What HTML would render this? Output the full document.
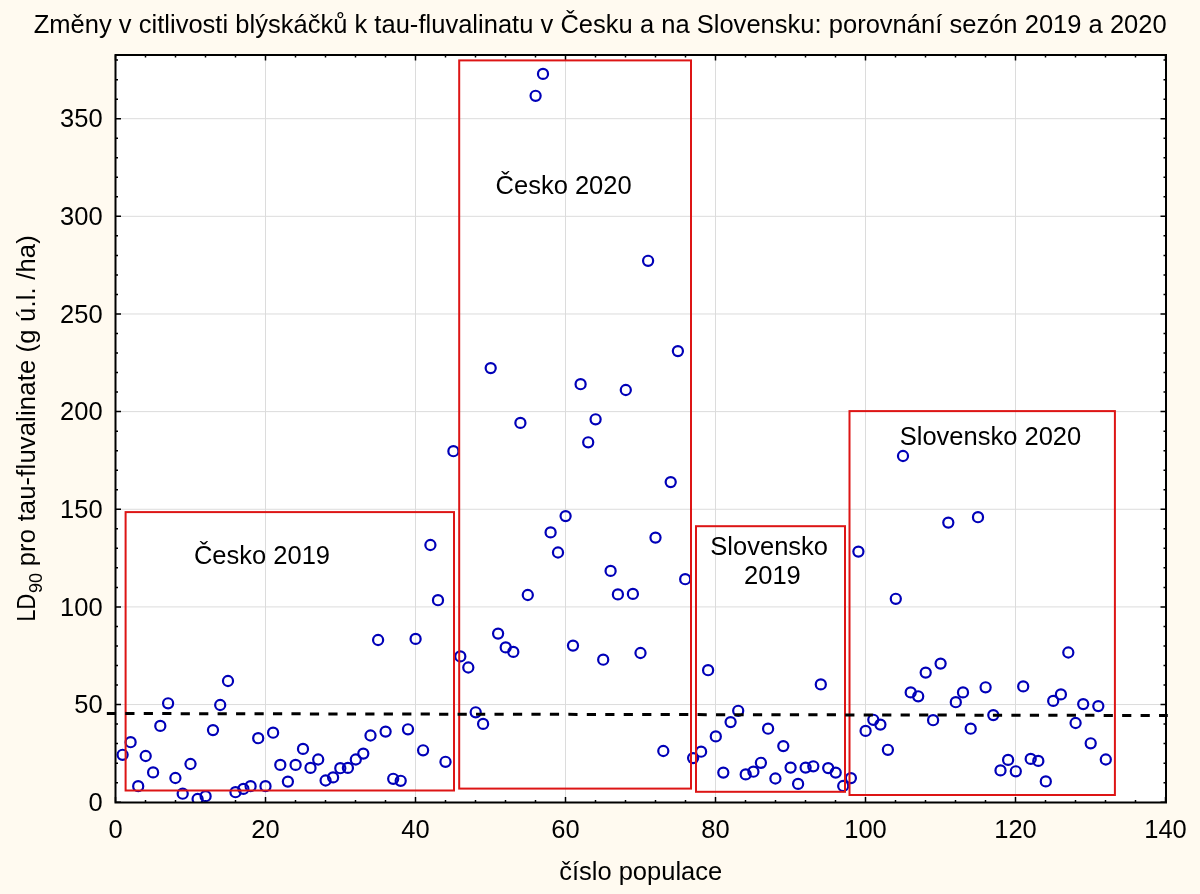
<!DOCTYPE html><html><head><meta charset="utf-8"><style>html,body{margin:0;padding:0;background:#FFFAF0;width:1200px;height:894px;overflow:hidden}svg{display:block;will-change:transform}text{font-family:"Liberation Sans",sans-serif;fill:#000}</style></head><body>
<svg width="1200" height="894" viewBox="0 0 1200 894">
<rect x="0" y="0" width="1200" height="894" fill="#FFFAF0"/>
<rect x="115.5" y="55.0" width="1050.50" height="747.50" fill="#FFFFFF"/>
<path d="M265.50 55.0V802.5M415.50 55.0V802.5M565.50 55.0V802.5M715.50 55.0V802.5M865.50 55.0V802.5M1015.50 55.0V802.5M115.5 704.56H1166.00M115.5 606.91H1166.00M115.5 509.27H1166.00M115.5 411.62H1166.00M115.5 313.98H1166.00M115.5 216.33H1166.00M115.5 118.69H1166.00" stroke="#DCDCDC" stroke-width="1" fill="none"/>
<path d="M115.50 802.5v-5.5M115.50 55.0v5.5M145.50 802.5v-2.5M145.50 55.0v2.5M175.50 802.5v-2.5M175.50 55.0v2.5M205.50 802.5v-2.5M205.50 55.0v2.5M235.50 802.5v-2.5M235.50 55.0v2.5M265.50 802.5v-5.5M265.50 55.0v5.5M295.50 802.5v-2.5M295.50 55.0v2.5M325.50 802.5v-2.5M325.50 55.0v2.5M355.50 802.5v-2.5M355.50 55.0v2.5M385.50 802.5v-2.5M385.50 55.0v2.5M415.50 802.5v-5.5M415.50 55.0v5.5M445.50 802.5v-2.5M445.50 55.0v2.5M475.50 802.5v-2.5M475.50 55.0v2.5M505.50 802.5v-2.5M505.50 55.0v2.5M535.50 802.5v-2.5M535.50 55.0v2.5M565.50 802.5v-5.5M565.50 55.0v5.5M595.50 802.5v-2.5M595.50 55.0v2.5M625.50 802.5v-2.5M625.50 55.0v2.5M655.50 802.5v-2.5M655.50 55.0v2.5M685.50 802.5v-2.5M685.50 55.0v2.5M715.50 802.5v-5.5M715.50 55.0v5.5M745.50 802.5v-2.5M745.50 55.0v2.5M775.50 802.5v-2.5M775.50 55.0v2.5M805.50 802.5v-2.5M805.50 55.0v2.5M835.50 802.5v-2.5M835.50 55.0v2.5M865.50 802.5v-5.5M865.50 55.0v5.5M895.50 802.5v-2.5M895.50 55.0v2.5M925.50 802.5v-2.5M925.50 55.0v2.5M955.50 802.5v-2.5M955.50 55.0v2.5M985.50 802.5v-2.5M985.50 55.0v2.5M1015.50 802.5v-5.5M1015.50 55.0v5.5M1045.50 802.5v-2.5M1045.50 55.0v2.5M1075.50 802.5v-2.5M1075.50 55.0v2.5M1105.50 802.5v-2.5M1105.50 55.0v2.5M1135.50 802.5v-2.5M1135.50 55.0v2.5M1165.50 802.5v-5.5M1165.50 55.0v5.5M115.5 802.20h5.5M1166.00 802.20h-5.5M115.5 782.67h2.5M1166.00 782.67h-2.5M115.5 763.14h2.5M1166.00 763.14h-2.5M115.5 743.61h2.5M1166.00 743.61h-2.5M115.5 724.08h2.5M1166.00 724.08h-2.5M115.5 704.56h5.5M1166.00 704.56h-5.5M115.5 685.03h2.5M1166.00 685.03h-2.5M115.5 665.50h2.5M1166.00 665.50h-2.5M115.5 645.97h2.5M1166.00 645.97h-2.5M115.5 626.44h2.5M1166.00 626.44h-2.5M115.5 606.91h5.5M1166.00 606.91h-5.5M115.5 587.38h2.5M1166.00 587.38h-2.5M115.5 567.85h2.5M1166.00 567.85h-2.5M115.5 548.32h2.5M1166.00 548.32h-2.5M115.5 528.79h2.5M1166.00 528.79h-2.5M115.5 509.27h5.5M1166.00 509.27h-5.5M115.5 489.74h2.5M1166.00 489.74h-2.5M115.5 470.21h2.5M1166.00 470.21h-2.5M115.5 450.68h2.5M1166.00 450.68h-2.5M115.5 431.15h2.5M1166.00 431.15h-2.5M115.5 411.62h5.5M1166.00 411.62h-5.5M115.5 392.09h2.5M1166.00 392.09h-2.5M115.5 372.56h2.5M1166.00 372.56h-2.5M115.5 353.03h2.5M1166.00 353.03h-2.5M115.5 333.50h2.5M1166.00 333.50h-2.5M115.5 313.98h5.5M1166.00 313.98h-5.5M115.5 294.45h2.5M1166.00 294.45h-2.5M115.5 274.92h2.5M1166.00 274.92h-2.5M115.5 255.39h2.5M1166.00 255.39h-2.5M115.5 235.86h2.5M1166.00 235.86h-2.5M115.5 216.33h5.5M1166.00 216.33h-5.5M115.5 196.80h2.5M1166.00 196.80h-2.5M115.5 177.27h2.5M1166.00 177.27h-2.5M115.5 157.74h2.5M1166.00 157.74h-2.5M115.5 138.21h2.5M1166.00 138.21h-2.5M115.5 118.69h5.5M1166.00 118.69h-5.5M115.5 99.16h2.5M1166.00 99.16h-2.5M115.5 79.63h2.5M1166.00 79.63h-2.5M115.5 60.10h2.5M1166.00 60.10h-2.5" stroke="#000" stroke-width="1.5" fill="none"/>
<defs><clipPath id="pc"><rect x="115.5" y="55.0" width="1050.50" height="747.50"/></clipPath></defs>
<g fill="none" stroke="#0000B8" stroke-width="2.2" clip-path="url(#pc)"><circle cx="122.6" cy="754.8" r="5.05"/><circle cx="130.6" cy="742.2" r="5.05"/><circle cx="138.2" cy="786.2" r="5.05"/><circle cx="145.7" cy="756.0" r="5.05"/><circle cx="153.1" cy="772.4" r="5.05"/><circle cx="160.3" cy="725.9" r="5.05"/><circle cx="168.1" cy="703.3" r="5.05"/><circle cx="175.4" cy="778.0" r="5.05"/><circle cx="182.7" cy="793.7" r="5.05"/><circle cx="190.5" cy="764.0" r="5.05"/><circle cx="197.6" cy="799.0" r="5.05"/><circle cx="205.6" cy="796.2" r="5.05"/><circle cx="213.0" cy="730.1" r="5.05"/><circle cx="220.2" cy="705.0" r="5.05"/><circle cx="228.0" cy="681.0" r="5.05"/><circle cx="235.5" cy="792.2" r="5.05"/><circle cx="243.4" cy="788.9" r="5.05"/><circle cx="250.6" cy="786.2" r="5.05"/><circle cx="258.2" cy="738.2" r="5.05"/><circle cx="265.5" cy="786.2" r="5.05"/><circle cx="273.1" cy="732.7" r="5.05"/><circle cx="280.3" cy="764.9" r="5.05"/><circle cx="287.9" cy="781.6" r="5.05"/><circle cx="295.6" cy="764.9" r="5.05"/><circle cx="303.0" cy="748.9" r="5.05"/><circle cx="310.5" cy="767.9" r="5.05"/><circle cx="318.2" cy="759.5" r="5.05"/><circle cx="325.6" cy="780.5" r="5.05"/><circle cx="333.1" cy="777.4" r="5.05"/><circle cx="340.3" cy="768.2" r="5.05"/><circle cx="347.9" cy="767.9" r="5.05"/><circle cx="355.8" cy="759.5" r="5.05"/><circle cx="363.3" cy="753.6" r="5.05"/><circle cx="370.5" cy="735.5" r="5.05"/><circle cx="378.1" cy="640.0" r="5.05"/><circle cx="385.6" cy="731.6" r="5.05"/><circle cx="393.2" cy="778.8" r="5.05"/><circle cx="400.7" cy="780.8" r="5.05"/><circle cx="408.0" cy="729.3" r="5.05"/><circle cx="415.6" cy="638.9" r="5.05"/><circle cx="423.1" cy="750.3" r="5.05"/><circle cx="430.4" cy="545.0" r="5.05"/><circle cx="438.0" cy="600.2" r="5.05"/><circle cx="445.5" cy="761.8" r="5.05"/><circle cx="453.4" cy="451.2" r="5.05"/><circle cx="460.3" cy="656.4" r="5.05"/><circle cx="468.3" cy="667.5" r="5.05"/><circle cx="475.7" cy="712.3" r="5.05"/><circle cx="483.1" cy="723.9" r="5.05"/><circle cx="490.7" cy="368.1" r="5.05"/><circle cx="498.1" cy="633.6" r="5.05"/><circle cx="505.7" cy="647.4" r="5.05"/><circle cx="513.3" cy="651.9" r="5.05"/><circle cx="520.4" cy="422.9" r="5.05"/><circle cx="527.8" cy="595.0" r="5.05"/><circle cx="535.6" cy="95.8" r="5.05"/><circle cx="543.0" cy="73.9" r="5.05"/><circle cx="550.6" cy="532.4" r="5.05"/><circle cx="558.0" cy="552.5" r="5.05"/><circle cx="565.6" cy="516.1" r="5.05"/><circle cx="573.0" cy="645.6" r="5.05"/><circle cx="580.6" cy="384.2" r="5.05"/><circle cx="588.2" cy="442.3" r="5.05"/><circle cx="595.6" cy="419.3" r="5.05"/><circle cx="603.2" cy="659.7" r="5.05"/><circle cx="610.6" cy="570.9" r="5.05"/><circle cx="617.9" cy="594.4" r="5.05"/><circle cx="625.8" cy="390.0" r="5.05"/><circle cx="632.9" cy="593.9" r="5.05"/><circle cx="640.5" cy="653.0" r="5.05"/><circle cx="648.1" cy="260.8" r="5.05"/><circle cx="655.5" cy="537.6" r="5.05"/><circle cx="663.3" cy="751.0" r="5.05"/><circle cx="670.7" cy="482.1" r="5.05"/><circle cx="677.9" cy="351.1" r="5.05"/><circle cx="685.2" cy="579.2" r="5.05"/><circle cx="693.1" cy="758.1" r="5.05"/><circle cx="701.1" cy="751.7" r="5.05"/><circle cx="708.1" cy="670.2" r="5.05"/><circle cx="715.8" cy="736.4" r="5.05"/><circle cx="723.3" cy="772.6" r="5.05"/><circle cx="730.6" cy="722.1" r="5.05"/><circle cx="738.2" cy="710.8" r="5.05"/><circle cx="745.7" cy="774.4" r="5.05"/><circle cx="753.4" cy="771.7" r="5.05"/><circle cx="760.9" cy="762.8" r="5.05"/><circle cx="768.1" cy="728.7" r="5.05"/><circle cx="775.4" cy="778.5" r="5.05"/><circle cx="783.3" cy="746.1" r="5.05"/><circle cx="790.6" cy="767.6" r="5.05"/><circle cx="798.1" cy="783.9" r="5.05"/><circle cx="805.6" cy="767.6" r="5.05"/><circle cx="813.3" cy="766.3" r="5.05"/><circle cx="820.8" cy="684.4" r="5.05"/><circle cx="828.2" cy="768.1" r="5.05"/><circle cx="835.7" cy="772.6" r="5.05"/><circle cx="843.2" cy="786.0" r="5.05"/><circle cx="850.9" cy="778.1" r="5.05"/><circle cx="858.4" cy="551.6" r="5.05"/><circle cx="865.6" cy="730.9" r="5.05"/><circle cx="873.3" cy="719.8" r="5.05"/><circle cx="880.4" cy="724.6" r="5.05"/><circle cx="887.9" cy="749.8" r="5.05"/><circle cx="895.8" cy="598.8" r="5.05"/><circle cx="903.0" cy="456.0" r="5.05"/><circle cx="910.7" cy="692.4" r="5.05"/><circle cx="918.2" cy="696.3" r="5.05"/><circle cx="925.7" cy="672.6" r="5.05"/><circle cx="933.1" cy="720.2" r="5.05"/><circle cx="940.6" cy="663.6" r="5.05"/><circle cx="948.3" cy="522.6" r="5.05"/><circle cx="955.8" cy="702.2" r="5.05"/><circle cx="963.0" cy="692.4" r="5.05"/><circle cx="970.7" cy="728.7" r="5.05"/><circle cx="978.0" cy="517.2" r="5.05"/><circle cx="985.6" cy="687.3" r="5.05"/><circle cx="993.3" cy="715.1" r="5.05"/><circle cx="1000.5" cy="770.4" r="5.05"/><circle cx="1008.1" cy="759.9" r="5.05"/><circle cx="1015.8" cy="771.3" r="5.05"/><circle cx="1023.2" cy="686.4" r="5.05"/><circle cx="1030.7" cy="758.9" r="5.05"/><circle cx="1038.3" cy="760.9" r="5.05"/><circle cx="1045.8" cy="781.4" r="5.05"/><circle cx="1053.2" cy="700.9" r="5.05"/><circle cx="1060.9" cy="694.4" r="5.05"/><circle cx="1068.3" cy="652.5" r="5.05"/><circle cx="1075.6" cy="723.0" r="5.05"/><circle cx="1083.2" cy="704.1" r="5.05"/><circle cx="1090.7" cy="743.3" r="5.05"/><circle cx="1098.3" cy="706.1" r="5.05"/><circle cx="1105.8" cy="759.5" r="5.05"/></g>
<g fill="none" stroke="#DD1515" stroke-width="2"><rect x="125.6" y="512.1" width="328.4" height="278.4"/><rect x="459.2" y="60.4" width="231.8" height="728.2"/><rect x="696.0" y="526.2" width="149.0" height="265.6"/><rect x="849.5" y="411.1" width="265.4" height="383.9"/></g>
<line x1="106.84" y1="713.5" x2="1167.8" y2="715.5" stroke="#000" stroke-width="3" stroke-dasharray="9.2 9.26"/>
<rect x="115.5" y="55.0" width="1050.50" height="747.50" fill="none" stroke="#000" stroke-width="2"/>
<text x="115.50" y="837.7" font-size="25.5" text-anchor="middle">0</text>
<text x="265.50" y="837.7" font-size="25.5" text-anchor="middle">20</text>
<text x="415.50" y="837.7" font-size="25.5" text-anchor="middle">40</text>
<text x="565.50" y="837.7" font-size="25.5" text-anchor="middle">60</text>
<text x="715.50" y="837.7" font-size="25.5" text-anchor="middle">80</text>
<text x="865.50" y="837.7" font-size="25.5" text-anchor="middle">100</text>
<text x="1015.50" y="837.7" font-size="25.5" text-anchor="middle">120</text>
<text x="1165.50" y="837.7" font-size="25.5" text-anchor="middle">140</text>
<text x="102.6" y="811.00" font-size="25.5" text-anchor="end">0</text>
<text x="102.6" y="713.36" font-size="25.5" text-anchor="end">50</text>
<text x="102.6" y="615.71" font-size="25.5" text-anchor="end">100</text>
<text x="102.6" y="518.07" font-size="25.5" text-anchor="end">150</text>
<text x="102.6" y="420.42" font-size="25.5" text-anchor="end">200</text>
<text x="102.6" y="322.78" font-size="25.5" text-anchor="end">250</text>
<text x="102.6" y="225.13" font-size="25.5" text-anchor="end">300</text>
<text x="102.6" y="127.49" font-size="25.5" text-anchor="end">350</text>
<text x="600.2" y="32.7" font-size="25.5" text-anchor="middle" textLength="1133" lengthAdjust="spacing">Změny v citlivosti blýskáčků k tau-fluvalinatu v Česku a na Slovensku: porovnání sezón 2019 a 2020</text>
<text x="640.7" y="880.4" font-size="25.5" text-anchor="middle">číslo populace</text>
<g transform="rotate(-90)"><text x="-621.6" y="35.3" font-size="25.5" textLength="27.8" lengthAdjust="spacingAndGlyphs">LD</text><text x="-592.9" y="41.8" font-size="18">90</text><text x="-566.3" y="35.3" font-size="25.5" textLength="331" lengthAdjust="spacing">pro tau-fluvalinate (g ú.l. /ha)</text></g>
<text x="262" y="564.1" font-size="25.5" text-anchor="middle">Česko 2019</text>
<text x="563.6" y="193.9" font-size="25.5" text-anchor="middle">Česko 2020</text>
<text x="769.2" y="555.3" font-size="25.5" text-anchor="middle">Slovensko</text>
<text x="772.4" y="584.1" font-size="25.5" text-anchor="middle">2019</text>
<text x="990.5" y="445" font-size="25.5" text-anchor="middle">Slovensko 2020</text>
</svg></body></html>
